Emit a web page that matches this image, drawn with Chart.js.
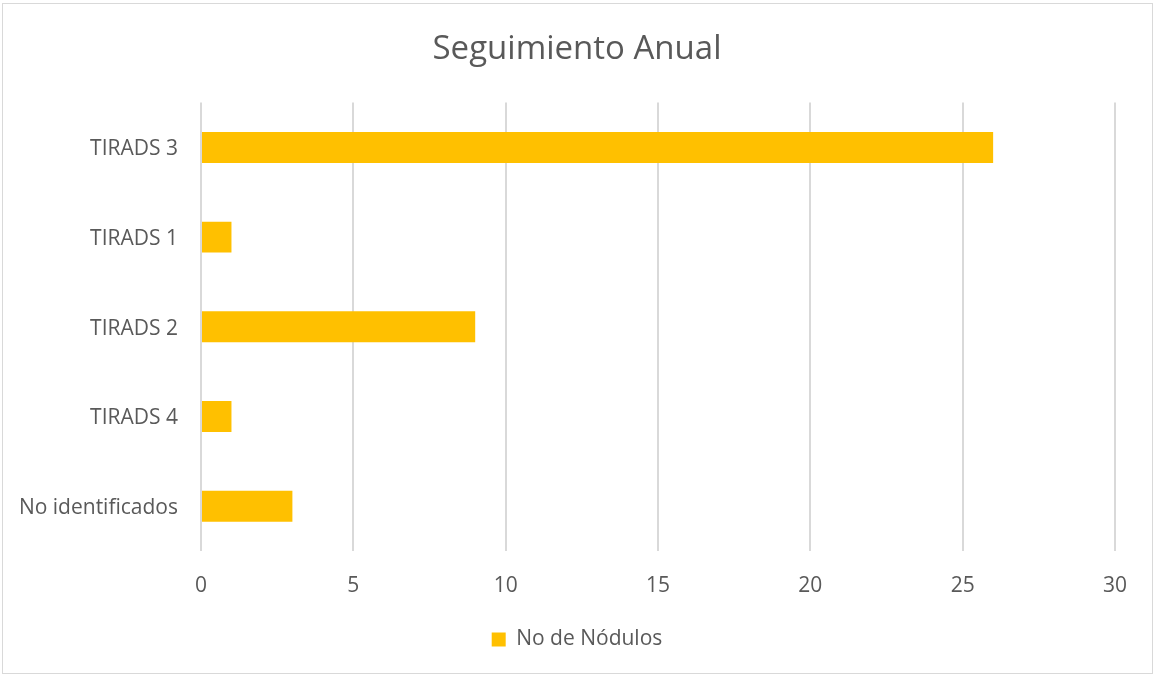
<!DOCTYPE html>
<html>
<head>
<meta charset="utf-8">
<script src="https://cdn.jsdelivr.net/npm/chart.js@4.4.1/dist/chart.umd.min.js"></script>
<style>
  html, body { margin: 0; padding: 0; background: #ffffff; }
  #wrap { position: relative; width: 1154px; height: 675px; }
</style>
</head>
<body>
<div id="wrap"><canvas id="c" width="1154" height="675"></canvas></div>
<script>
const chartTitle = "Seguimiento Anual";
const categories = ["TIRADS 3", "TIRADS 1", "TIRADS 2", "TIRADS 4", "No identificados"];
const seriesName = "No de Nódulos";
const values = [26, 1, 9, 1, 3];
const xMin = 0, xMax = 30, xStep = 5;

const textColor = "#595959";
const gridColor = "#D9D9D9";
const barColor = "#FFC000";
const fontFamily = "'Open Sans', sans-serif";

const borderPlugin = {
  id: 'outerBorder',
  beforeDraw(chart) {
    const ctx = chart.ctx;
    ctx.save();
    ctx.fillStyle = '#ffffff';
    ctx.fillRect(0, 0, chart.width, chart.height);
    ctx.strokeStyle = '#D9D9D9';
    ctx.lineWidth = 1;
    ctx.strokeRect(2.5, 3.5, 1150, 670);
    ctx.restore();
  }
};

new Chart(document.getElementById('c'), {
  type: 'bar',
  data: {
    labels: categories,
    datasets: [{
      label: seriesName,
      data: values,
      backgroundColor: barColor,
      borderWidth: 0,
      categoryPercentage: 1,
      barPercentage: 0.345
    }]
  },
  options: {
    indexAxis: 'y',
    responsive: false,
    animation: false,
    layout: { padding: { left: 0, right: 0, top: 0, bottom: 15 } },
    plugins: {
      title: {
        display: true,
        text: chartTitle,
        color: textColor,
        font: { family: fontFamily, size: 33, weight: 'normal' },
        padding: { top: 30, bottom: 33 }
      },
      legend: {
        display: true,
        position: 'bottom',
        labels: {
          color: textColor,
          font: { family: fontFamily, size: 21 },
          boxWidth: 14,
          boxHeight: 14,
          padding: 10
        }
      },
      tooltip: { enabled: false }
    },
    scales: {
      x: {
        min: xMin, max: xMax,
        ticks: { stepSize: xStep, color: textColor, font: { family: fontFamily, size: 21 }, padding: 22 },
        grid: { color: gridColor, lineWidth: 2, drawTicks: false },
        border: { display: false },
        afterFit(scale) { scale.height = 68; }
      },
      y: {
        ticks: { color: textColor, font: { family: fontFamily, size: 21 }, padding: 23, labelOffset: 2 },
        grid: { display: false, drawTicks: false },
        border: { display: false },
        afterFit(scale) { scale.width = 201; }
      },
      yRight: {
        type: 'category',
        position: 'right',
        labels: categories,
        ticks: { display: false },
        grid: { display: false, drawTicks: false },
        border: { display: false },
        afterFit(scale) { scale.width = 39; }
      }
    }
  },
  plugins: [borderPlugin]
});
</script>
</body>
</html>
